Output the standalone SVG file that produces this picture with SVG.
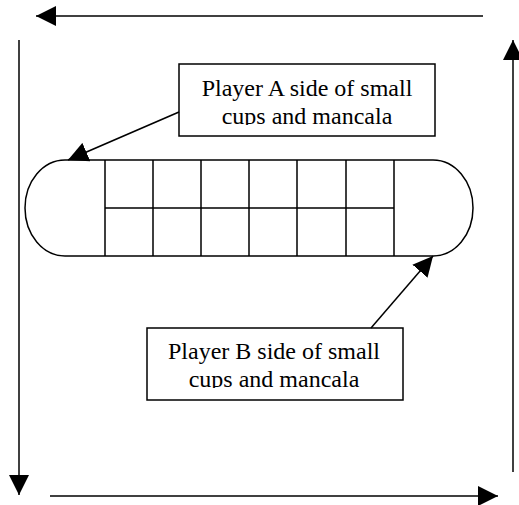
<svg xmlns="http://www.w3.org/2000/svg" width="519" height="505" viewBox="0 0 519 505">
<style>
.ln{stroke:#000;stroke-width:1.5;fill:none}
.arr{stroke:#000;stroke-width:1.5;fill:none;marker-end:url(#ah)}
.box{stroke:#000;stroke-width:1.5;fill:#fff}
.t{font-family:"Liberation Serif","Times New Roman",serif;font-size:24px;fill:#000;text-anchor:middle}
</style>
<defs>
<marker id="ah" viewBox="0 0 20 20" refX="20" refY="10" markerWidth="20" markerHeight="20" markerUnits="userSpaceOnUse" orient="auto">
<path d="M0,0 L20,10 L0,20 Z" fill="#000"/>
</marker>
<clipPath id="clipA"><rect x="179" y="64" width="256" height="61"/></clipPath>
<clipPath id="clipB"><rect x="147" y="328" width="256" height="60"/></clipPath>
</defs>
<rect width="519" height="505" fill="#fff"/>
<g id="board">
<path class="ln" d="M65,160 L433,160 A40,48 0 0 1 433,256 L65,256 A40,48 0 0 1 65,160 Z"/>
<path class="ln" d="M105,160V256M153,160V256M201,160V256M249,160V256M297,160V256M346,160V256M394,160V256M105,208H394"/>
</g>
<g id="labelA">
<rect class="box" x="179" y="64" width="256" height="72"/>
<g clip-path="url(#clipA)">
<text class="t" x="307" y="96">Player A side of small</text>
<text class="t" x="307" y="124">cups and mancala</text>
</g>
</g>
<g id="labelB">
<rect class="box" x="147" y="328" width="256" height="72"/>
<g clip-path="url(#clipB)">
<text class="t" x="274" y="359">Player B side of small</text>
<text class="t" x="274" y="387">cups and mancala</text>
</g>
</g>
<g id="connectors">
<line class="arr" x1="483" y1="16" x2="36" y2="16"/>
<line class="arr" x1="19" y1="40" x2="19" y2="495"/>
<line class="arr" x1="50" y1="496" x2="498" y2="496"/>
<line class="arr" x1="513" y1="472" x2="513" y2="40"/>
<line class="arr" x1="179" y1="112" x2="68" y2="160"/>
<line class="arr" x1="371" y1="328" x2="433" y2="256"/>
</g>
</svg>
